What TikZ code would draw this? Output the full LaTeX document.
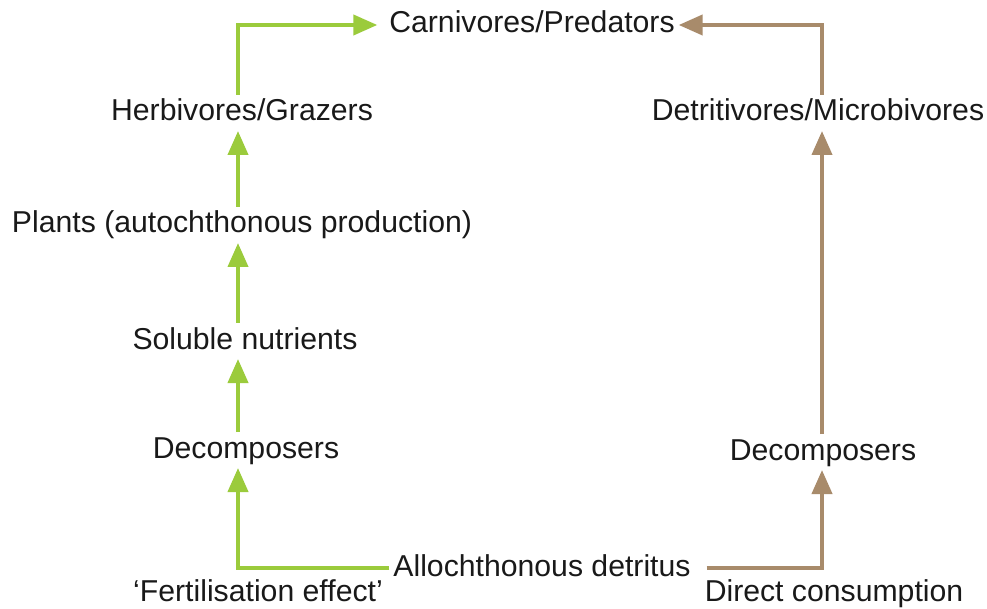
\documentclass[tikz,border=0pt]{standalone}
\usepackage{fontspec}
\setmainfont{Liberation Sans}
\usetikzlibrary{arrows.meta}
\definecolor{lgreen}{HTML}{9BCB3C}
\definecolor{lbrown}{HTML}{A88B6B}
\begin{document}
\begin{tikzpicture}[x=1pt,y=-1pt,
  lbl/.style={inner sep=0pt,outer sep=4pt,text height=22pt,text depth=6pt,font=\fontsize{30.2}{34}\selectfont,text=black!90},
  garrow/.style={draw=lgreen,line width=4pt,-{Triangle[length=24pt,width=20pt]}},
  barrow/.style={draw=lbrown,line width=4pt,-{Triangle[length=24pt,width=20pt]}}]
\useasboundingbox (0,0) rectangle (987,609);
\node[lbl] (carn) at (532,25) {Carnivores/Predators};
\node[lbl] (herb) at (242,113) {Herbivores/Grazers};
\node[lbl] (detr) at (818,113) {Detritivores/Microbivores};
\node[lbl] (plants) at (242,225) {Plants (autochthonous production)};
\node[lbl] (sol) at (245,341) {Soluble nutrients};
\node[lbl] (dl) at (246,450) {Decomposers};
\node[lbl] (dr) at (823,452) {Decomposers};
\node[lbl] (allo) at (542,568) {Allochthonous detritus};
\node[lbl] (fert) at (258,593) {‘Fertilisation effect’};
\node[lbl] (direct) at (834,593) {Direct consumption};
\coordinate (gx) at (238,0);
\coordinate (bx) at (822,0);
% green chain
\draw[garrow,shorten >=8pt] (herb.north -| gx) |- (carn.west);
\draw[garrow] (plants.north -| gx) -- (herb.south -| gx);
\draw[garrow] (sol.north -| gx) -- (plants.south -| gx);
\draw[garrow] (dl.north -| gx) -- (sol.south -| gx);
\draw[garrow] (allo.west) -| (dl.south -| gx);
% brown chain
\draw[barrow,shorten <=12pt] (allo.east) -| (dr.south -| bx);
\draw[barrow] (dr.north -| bx) -- (detr.south -| bx);
\draw[barrow] (detr.north -| bx) |- (carn.east);
\end{tikzpicture}
\end{document}
